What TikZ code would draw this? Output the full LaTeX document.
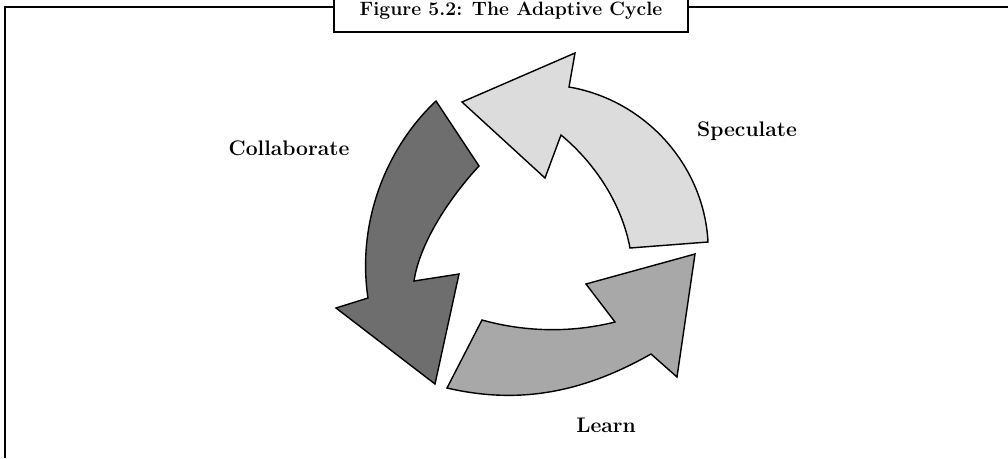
\documentclass[tikz,border=0pt]{standalone}
\usepackage{tikz}
\usetikzlibrary{shapes,arrows,positioning,calc}

\definecolor{speclight}{HTML}{DCDCDC}
\definecolor{learnmid}{HTML}{A8A8A8}
\definecolor{collabdark}{HTML}{6E6E6E}

\begin{document}
\begin{tikzpicture}[x=0.02cm, y=-0.02cm,
    cyclearrow/.style={draw=black, line width=0.8pt, line join=miter},
    label/.style={font=\fontsize{12}{14}\selectfont\bfseries}]
    \useasboundingbox (0,0) rectangle (1008,458);

    % frame and title
    \draw[line width=1.2pt] (5,458) -- (5,7) -- (1008,7);
    \draw[line width=1pt, fill=white] (334,-5) rectangle (688,32);
    \node[anchor=base, font=\fontsize{11}{13}\selectfont\bfseries] (title) at (511,15) {Figure 5.2: The Adaptive Cycle};

    % speculate
    \draw[cyclearrow, fill=speclight] (462,102) -- (575,53) -- (569,87)
        .. controls (645,100) and (704,165) .. (708,242)
        -- (630,248)
        .. controls (622,205) and (596,164) .. (561,135)
        -- (545,178) -- cycle;

    % collaborate
    \draw[cyclearrow, fill=collabdark] (436,101) -- (479,166)
        .. controls (452,195) and (420,241) .. (414,281)
        -- (459,274) -- (435,384) -- (336,308) -- (368,298)
        .. controls (357,225) and (384,150) .. (436,101)
        -- cycle;

    % learn
    \draw[cyclearrow, fill=learnmid] (447,388) -- (482,320)
        .. controls (525,332) and (571,333) .. (615,322)
        -- (586,284) -- (695,254) -- (677,377) -- (651,354)
        .. controls (584,392) and (520,405) .. (447,388)
        -- cycle;

    % labels
    \node[label] (speculate) at (747,131) {Speculate};
    \node[label] (collaborate) at (289,148) {Collaborate};
    \node[label] (learn) at (606,425) {Learn};
\end{tikzpicture}
\end{document}
